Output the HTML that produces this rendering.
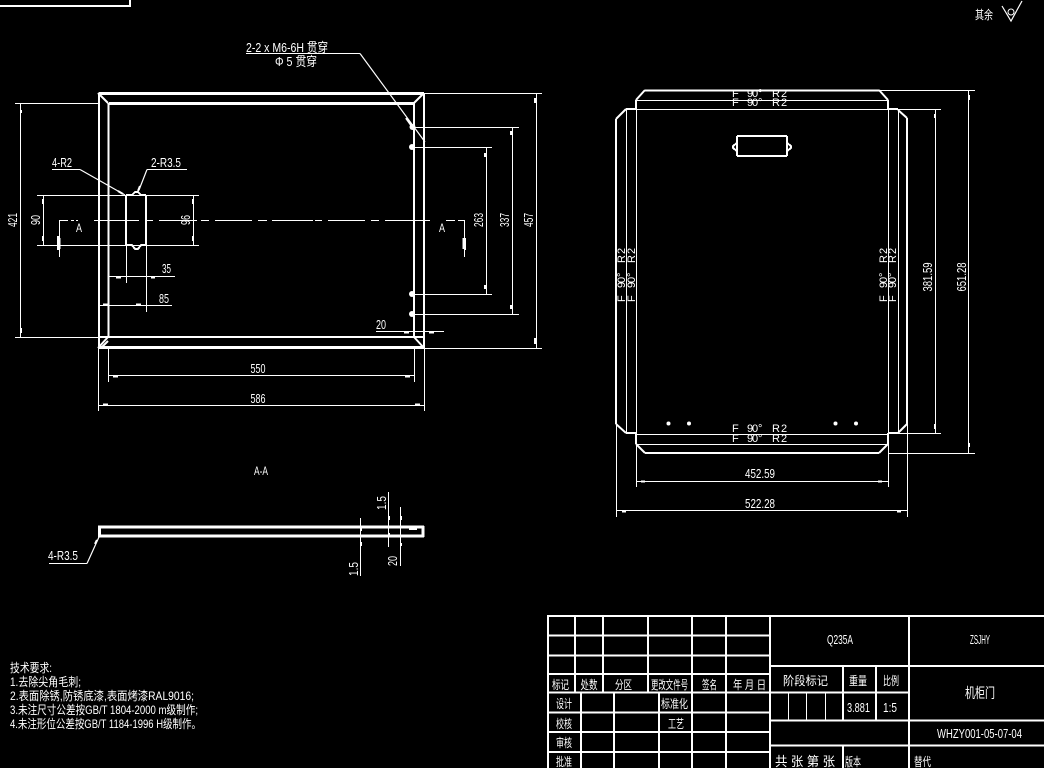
<!DOCTYPE html>
<html><head><meta charset="utf-8"><style>
html,body{margin:0;padding:0;background:#000;width:1044px;height:768px;overflow:hidden}
svg{display:block}
path{fill:none;stroke:#fff;shape-rendering:crispEdges}
.t{stroke-width:1}
.m{stroke-width:2}
.b{stroke-width:3}
.d{shape-rendering:auto;stroke-width:1.2}
.d2{shape-rendering:auto;stroke-width:2}
text{fill:#fff;font-family:"Liberation Sans","Noto Sans CJK SC",sans-serif;font-size:13px}
.c{text-anchor:middle}
.s{font-size:12px}
.f{font-size:11px}
circle{fill:#fff}
</style></head><body>
<svg width="1044" height="768" viewBox="0 0 1044 768" xmlns="http://www.w3.org/2000/svg">
<!-- top-left box -->
<path class="m" d="M0 6H130V0"/>
<!-- roughness -->
<text x="975" y="19" textLength="18" lengthAdjust="spacingAndGlyphs" class="s">其余</text>
<path class="d" d="M1002 6L1011 21L1022 1"/>
<circle cx="1011" cy="12" r="3" style="fill:none;stroke:#fff"/>

<!-- FRONT VIEW -->
<path class="b" d="M99 93.500H424M109 103.500H414"/>
<path class="m" d="M99 93V348M424 93V348M108.500 103V337M414 103V337M99 337H424"/>
<path class="b" d="M99 347.500H424"/>
<path class="d2" d="M98 93L108 103M424 93L414 103M98 348L108 337M101 348L108 341M424 348L414 337"/>
<!-- dims outer -->
<path class="t" d="M15 103.500H99M15 337.500H99M20.500 103V337M424 93.500H542M536.500 93V348M424 348.500H542M413 127.500H519M512.500 127V314M413 314.500H519M413 147.500H492M486.500 147V294M413 294.500H492"/>
<path class="m" d="M21 110V113M21 328V333M535 98V103M535 338V344M511 131V135M511 305V309M485 153V157M485 285V289"/>
<!-- leaders -->
<path class="t" d="M246 53.500H360"/>
<path class="d" d="M360 53.500L425 142"/>
<path class="d2" d="M406 118L411 125"/>
<circle cx="412.500" cy="127" r="3"/><circle cx="412" cy="147" r="3"/><circle cx="412" cy="294" r="3"/><circle cx="412" cy="314" r="3"/>
<text x="246" y="52" textLength="82" lengthAdjust="spacingAndGlyphs">2-2 x M6-6H 贯穿</text>
<text x="275" y="66" textLength="42" lengthAdjust="spacingAndGlyphs">Φ  5 贯穿</text>
<!-- notch -->
<path class="m" d="M126 195V245M146 195V245M126 195H132L135 192H138L141 195H146M126 245H132L135 249H138L141 245H146"/>
<path class="t" d="M37 195.500H199M37 245.500H199M43.500 195V245M193.500 195V245"/>
<path class="m" d="M43 199V204M43 236V241M193 199V204M193 236V241"/>
<path class="d" d="M80 169.500L125 195M147 169.500L139 190"/>
<path class="t" d="M52 169.500H80M147 169.500H187"/>
<path class="d2" d="M118 191L123 194M140 186L138 191"/>
<text x="52" y="167" textLength="20" lengthAdjust="spacingAndGlyphs">4-R2</text>
<text x="151" y="167" textLength="30" lengthAdjust="spacingAndGlyphs">2-R3.5</text>
<text class="c" transform="translate(17,220) rotate(-90)" textLength="14" lengthAdjust="spacingAndGlyphs">421</text>
<text class="c" transform="translate(40,220) rotate(-90)" textLength="10" lengthAdjust="spacingAndGlyphs">90</text>
<text class="c" transform="translate(190,220) rotate(-90)" textLength="10" lengthAdjust="spacingAndGlyphs">96</text>
<text class="c" transform="translate(483,220) rotate(-90)" textLength="14" lengthAdjust="spacingAndGlyphs">263</text>
<text class="c" transform="translate(509,220) rotate(-90)" textLength="14" lengthAdjust="spacingAndGlyphs">337</text>
<text class="c" transform="translate(533,220) rotate(-90)" textLength="14" lengthAdjust="spacingAndGlyphs">457</text>
<!-- center line -->
<path class="t" d="M94 220.500H139M147 220.500H153M159 220.500H197M201 220.500H209M215 220.500H252M258 220.500H267M272 220.500H313M315 220.500H322M328 220.500H365M371 220.500H379M385 220.500H430"/>
<!-- section marks -->
<path class="t" d="M59.500 220V257M59 220.500H68M71 220.500H74M76 220.500H78M464.500 220V257M446 220.500H455M458 220.500H464"/>
<path class="b" d="M59 238V249M464 238V249"/>
<path class="m" d="M58 236V250M465 238V250"/>
<text class="c s" x="79" y="232" textLength="6" lengthAdjust="spacingAndGlyphs">A</text>
<text class="c s" x="442" y="232" textLength="6" lengthAdjust="spacingAndGlyphs">A</text>
<!-- 35,85 -->
<path class="t" d="M108 276.500H175M126.500 245V283M98 305.500H172M146.500 245V312"/>
<path class="m" d="M116 277.500H121M151 277.500H155M103 304.500H108M136 304.500H141"/>
<text x="162" y="273" textLength="9" lengthAdjust="spacingAndGlyphs">35</text>
<text x="159" y="303" textLength="10" lengthAdjust="spacingAndGlyphs">85</text>
<!-- 20 -->
<path class="t" d="M376 331.500H444"/>
<path class="m" d="M404 332.500H409M429 332.500H434"/>
<text x="376" y="329" textLength="10" lengthAdjust="spacingAndGlyphs">20</text>
<!-- 550,586 -->
<path class="t" d="M108 375.500H414M108.500 348V382M414.500 348V382M98 405.500H424M98.500 348V411M424.500 348V411"/>
<path class="m" d="M113 376.500H118M405 376.500H410M103 404.500H108M415 404.500H420"/>
<text class="c" x="258" y="373" textLength="15" lengthAdjust="spacingAndGlyphs">550</text>
<text class="c" x="258" y="403" textLength="15" lengthAdjust="spacingAndGlyphs">586</text>

<!-- SECTION -->
<text class="c s" x="261" y="475" textLength="14" lengthAdjust="spacingAndGlyphs">A-A</text>
<path class="b" d="M98 527H424M98 536H424M99.500 526V537M423 526V537"/>
<path class="m" d="M409 529H417"/>
<path class="t" d="M360.500 518V576M388.500 492V547M400.500 507V566M49 563.500H87"/>
<path class="d" d="M87 563.500L99 537"/>
<path class="d2" d="M95 544L97 540"/>
<path class="m" d="M361 527V531M361 542V546M389 516V520M389 533V535M401 516V520M401 543V546"/>
<text x="48" y="560" textLength="30" lengthAdjust="spacingAndGlyphs">4-R3.5</text>
<text class="c" transform="translate(358,569) rotate(-90)" textLength="14" lengthAdjust="spacingAndGlyphs">1.5</text>
<text class="c" transform="translate(386,503) rotate(-90)" textLength="14" lengthAdjust="spacingAndGlyphs">1.5</text>
<text class="c" transform="translate(397,561) rotate(-90)" textLength="10" lengthAdjust="spacingAndGlyphs">20</text>

<!-- RIGHT VIEW -->
<path class="t" d="M636 109.500H888M636 100.500H888M636.500 109V434M888.500 109V434M626.500 109V433M898.500 109V433M636 434.500H888M636 444.500H888"/>
<path class="m" d="M645 90.500H879M636 100V109M888 100V109M626 109H636M888 109H898M616 119V424M907 118V424M626 433H636M888 433H898M636 433V444M888 433V444M645 453H879"/>
<path class="d2" d="M645 90L636 100M879 90L888 100M626 109L616 119M898 110L907 118M616 424L626 433M907 424L898 433M636 444L645 453M888 444L879 453"/>
<path class="m" d="M737 136H787M737 156H787M737 136V156M787 136V156M737 143L733 146V148L737 151M787 143L791 146V148L787 151"/>
<circle cx="668.500" cy="423.500" r="2"/><circle cx="689" cy="423.500" r="2"/><circle cx="835.500" cy="423.500" r="2"/><circle cx="856" cy="423.500" r="2"/>
<!-- F labels -->
<text class="f" x="732 747 752 758 772 781" y="97">F90°R2</text>
<text class="f" x="732 747 752 758 772 781" y="106">F90°R2</text>
<text class="f" x="732 747 752 758 772 781" y="432">F90°R2</text>
<text class="f" x="732 747 752 758 772 781" y="442">F90°R2</text>
<text class="f" x="0 14 19 25 39 48" transform="translate(625,302) rotate(-90)">F90°R2</text>
<text class="f" x="0 14 19 25 39 48" transform="translate(635,302) rotate(-90)">F90°R2</text>
<text class="f" x="0 14 19 25 39 48" transform="translate(887,302) rotate(-90)">F90°R2</text>
<text class="f" x="0 14 19 25 39 48" transform="translate(896,302) rotate(-90)">F90°R2</text>
<!-- dims -->
<path class="t" d="M888 109.500H941M935.500 109V433M898 433.500H941M879 90.500H975M968.500 90V453M888 453.500H975M636 481.500H888M636.500 444V487M888.500 444V487M616 510.500H907M616.500 424V517M907.500 424V517"/>
<path class="m" d="M935 114V118M935 424V429M969 95V100M969 443V447M641 481.500H645M878 481.500H882M622 511.500H626M897 511.500H901"/>
<text class="c" transform="translate(932,277) rotate(-90)" textLength="29" lengthAdjust="spacingAndGlyphs">381.59</text>
<text class="c" transform="translate(966,277) rotate(-90)" textLength="29" lengthAdjust="spacingAndGlyphs">651.28</text>
<text class="c" x="760" y="478" textLength="30" lengthAdjust="spacingAndGlyphs">452.59</text>
<text class="c" x="760" y="508" textLength="30" lengthAdjust="spacingAndGlyphs">522.28</text>

<!-- TECH -->
<g class="s">
<text class="s" x="10" y="672" textLength="42" lengthAdjust="spacingAndGlyphs">技术要求:</text>
<text class="s" x="10" y="686" textLength="71" lengthAdjust="spacingAndGlyphs">1.去除尖角毛刺;</text>
<text class="s" x="10" y="700" textLength="184" lengthAdjust="spacingAndGlyphs">2.表面除锈,防锈底漆,表面烤漆RAL9016;</text>
<text class="s" x="10" y="714" textLength="188" lengthAdjust="spacingAndGlyphs">3.未注尺寸公差按GB/T 1804-2000 m级制作;</text>
<text class="s" x="10" y="728" textLength="191" lengthAdjust="spacingAndGlyphs">4.未注形位公差按GB/T 1184-1996 H级制作。</text>
</g>

<!-- TITLE BLOCK -->
<path class="m" d="M548 616H1044M548 615V768M770 615V768M909 615V768M575 616V692M603 616V692M648 616V692M692 616V768M726 616V768M548 635.500H770M548 655.500H770M548 674H770M548 692.500H909M548 712.500H770M548 732H770M548 752H770M581 693V768M614 693V768M659 693V768M770 666H1044M770 720.500H1044M770 745.500H1044M843 666V720M876 666V720M843 745V768"/>
<path class="t" d="M788.500 693V720M806.500 693V720M825.500 693V720"/>
<text class="c s" x="560.500" y="689" textLength="17" lengthAdjust="spacingAndGlyphs">标记</text>
<text class="c s" x="589" y="689" textLength="17" lengthAdjust="spacingAndGlyphs">处数</text>
<text class="c s" x="623.500" y="689" textLength="17" lengthAdjust="spacingAndGlyphs">分区</text>
<text class="c s" x="669.500" y="689" textLength="37" lengthAdjust="spacingAndGlyphs">更改文件号</text>
<text class="c s" x="709.500" y="689" textLength="15" lengthAdjust="spacingAndGlyphs">签名</text>
<text class="c s" x="749.500" y="689" textLength="33" lengthAdjust="spacingAndGlyphs">年 月 日</text>
<text class="c s" x="564" y="708" textLength="16" lengthAdjust="spacingAndGlyphs">设计</text>
<text class="c s" x="564" y="728" textLength="16" lengthAdjust="spacingAndGlyphs">校核</text>
<text class="c s" x="564" y="747" textLength="16" lengthAdjust="spacingAndGlyphs">审核</text>
<text class="c s" x="564" y="766" textLength="16" lengthAdjust="spacingAndGlyphs">批准</text>
<text class="c s" x="674.500" y="708" textLength="27" lengthAdjust="spacingAndGlyphs">标准化</text>
<text class="c s" x="676" y="728" textLength="16" lengthAdjust="spacingAndGlyphs">工艺</text>
<text class="c" x="840" y="644" textLength="26" lengthAdjust="spacingAndGlyphs">Q235A</text>
<text class="c" x="980" y="644" textLength="20" lengthAdjust="spacingAndGlyphs">ZSJHY</text>
<text class="c s" x="805.500" y="685" textLength="45" lengthAdjust="spacingAndGlyphs">阶段标记</text>
<text class="c s" x="858" y="685" textLength="18" lengthAdjust="spacingAndGlyphs">重量</text>
<text class="c s" x="891" y="685" textLength="16" lengthAdjust="spacingAndGlyphs">比例</text>
<text class="c" x="858.500" y="712" textLength="23" lengthAdjust="spacingAndGlyphs">3.881</text>
<text class="c" x="890" y="712" textLength="14" lengthAdjust="spacingAndGlyphs">1:5</text>
<text class="c" x="980" y="698" textLength="30" lengthAdjust="spacingAndGlyphs" style="font-size:14px">机柜门</text>
<text class="c" x="979.500" y="738" textLength="85" lengthAdjust="spacingAndGlyphs">WHZY001-05-07-04</text>
<text x="775" y="766" textLength="60" lengthAdjust="spacingAndGlyphs">共 张  第 张</text>
<text class="s" x="845" y="766" textLength="16" lengthAdjust="spacingAndGlyphs">版本</text>
<text class="s" x="914" y="766" textLength="17" lengthAdjust="spacingAndGlyphs">替代</text>
</svg>
</body></html>
